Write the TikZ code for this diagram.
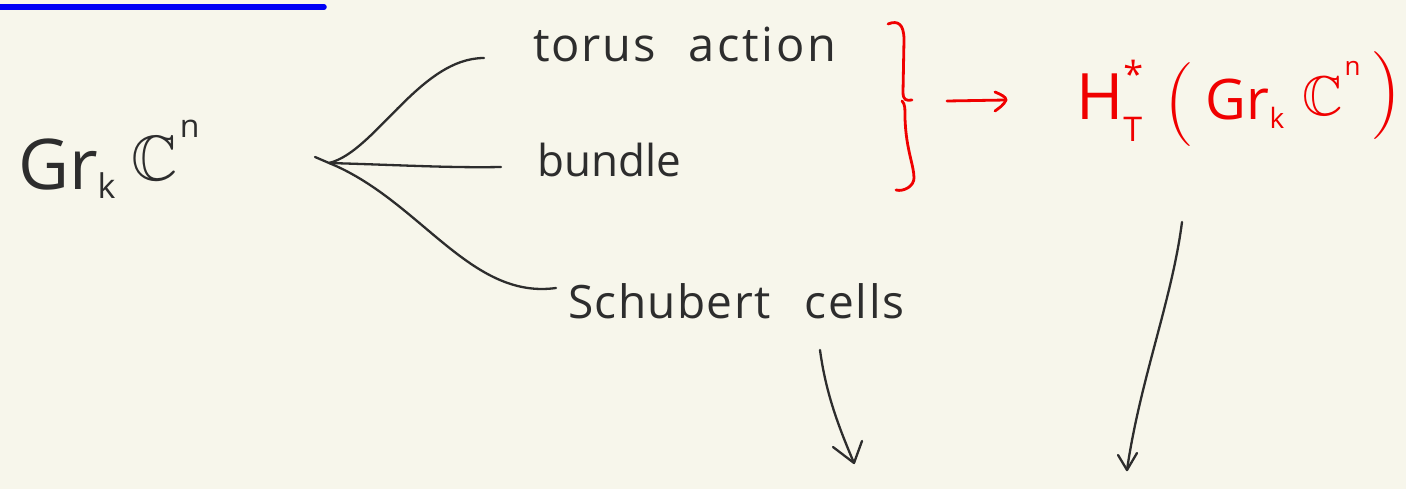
\documentclass[tikz,border=0pt]{standalone}
\usepackage{amssymb}
\usepackage{fontspec}
\setmainfont{Open Sans}
\newfontfamily\parenfont{Latin Modern Roman}
\definecolor{paper}{RGB}{247,246,235}
\definecolor{ink}{RGB}{45,45,45}
\definecolor{redink}{RGB}{240,0,0}
\definecolor{rule}{RGB}{0,0,245}
\newcommand{\fs}[1]{\fontsize{#1}{#1}\selectfont}
\newcommand{\spaced}[2]{{\addfontfeature{LetterSpace=#1}#2}}
\tikzset{
  pen/.style={draw=ink, line width=2.3pt, line cap=round, line join=round},
  redpen/.style={draw=redink, line width=2.8pt, line cap=round, line join=round},
  note/.style={inner sep=0pt, anchor=base west, text=ink},
}
\begin{document}
\begin{tikzpicture}[x=1pt, y=-1pt]
  \fill[paper] (0,0) rectangle (1406,489);
  \useasboundingbox (0,0) rectangle (1406,489);

  % heading rule
  \draw[rule, line width=5.5pt, line cap=round] (-5,7) -- (324,7);

  % the Grassmannian
  \node[note] (gr) at (18,190) {\fs{70}Gr\raisebox{-9pt}{\fs{34}k}\hspace{16pt}\raisebox{9pt}{\fs{64}$\mathbb{C}$}\hspace{2pt}\raisebox{52pt}{\fs{32}n}};

  % three branches
  \coordinate (split) at (329,163);
  \coordinate (tick) at (315,157);
  \coordinate (torusend) at (484,58);
  \coordinate (bundleend) at (501,167);
  \coordinate (schubend) at (556,288);

  \node[note] (torus) at (533,62) {\fs{47}\spaced{4}{torus}\hspace{32pt}\spaced{6}{action}};
  \node[note] (bundle) at (537,177) {\fs{44}bundle};
  \node[note] (schub) at (568,318) {\fs{46}\spaced{3}{Schubert}\hspace{34pt}\spaced{4}{cells}};

  \draw[pen] (tick) -- (split);
  \draw[pen] (split) .. controls (375,152) and (420,58) .. (torusend);
  \draw[pen] (split) .. controls (400,165) and (450,168) .. (bundleend);
  \draw[pen] (split) .. controls (420,200) and (470,300) .. (schubend);

  % red brace and arrow
  \coordinate (bracetop) at (888,24);
  \coordinate (bracemid) at (912,100);
  \coordinate (bracebot) at (896,190);
  \draw[redpen] (bracetop) .. controls (898,20) and (904,24) .. (904,40)
        -- (903,92) .. controls (903,100) and (906,101) .. (bracemid);
  \draw[redpen] (902,101) .. controls (905,104) and (905,108) .. (905,118)
        .. controls (906,150) and (914,165) .. (914,178)
        .. controls (914,186) and (904,192) .. (bracebot);

  \node[inner sep=0pt, anchor=base west, text=redink] (coh) at (1076,120)
    {\fs{64}H\rlap{\raisebox{32pt}{\fs{36}*}}\raisebox{-22pt}{\fs{34}T}\hspace{22pt}\raisebox{-6pt}{\parenfont\fs{84}(}\hspace{12pt}{\fs{56}Gr}\raisebox{-9pt}{\fs{28}k}\hspace{18pt}\raisebox{4pt}{\fs{56}$\mathbb{C}$}\hspace{2pt}\raisebox{44pt}{\fs{26}n}\hspace{10pt}\raisebox{2pt}{\parenfont\fs{88})}};

  \coordinate (rarrs) at (947,101);
  \coordinate (rarre) at (1006,100);
  \draw[redpen] (rarrs) -- (rarre);
  \draw[redpen] (995,92) .. controls (1002,95) and (1006,97) .. (rarre)
        .. controls (1004,105) and (999,108) .. (995,111);

  % downward arrows
  \coordinate (la) at (820,350);
  \coordinate (lb) at (854,463);
  \draw[pen] (la) .. controls (826,395) and (840,430) .. (lb);
  \draw[pen] (833,447) -- (lb) -- (862,441);

  \coordinate (ra) at (1182,222);
  \coordinate (rb) at (1127,470);
  \draw[pen] (ra) .. controls (1172,300) and (1140,380) .. (rb);
  \draw[pen] (1118,455) -- (rb) -- (1137,453);
\end{tikzpicture}
\end{document}
